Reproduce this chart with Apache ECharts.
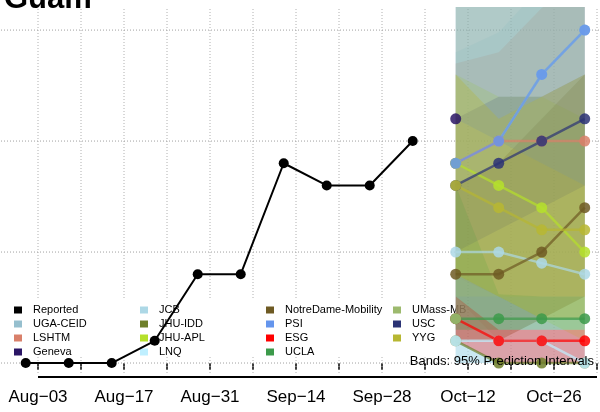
<!DOCTYPE html>
<html><head><meta charset="utf-8">
<script src="https://cdn.jsdelivr.net/npm/echarts/dist/echarts.min.js"></script>
<style>html,body{margin:0;padding:0;background:#fff}#c{width:600px;height:412px}</style>
</head><body><div id="c"></div>
<script>
// ---------- data ----------
const reportedDates = ['2020-08-01','2020-08-08','2020-08-15','2020-08-22','2020-08-29','2020-09-05','2020-09-12','2020-09-19','2020-09-26','2020-10-03'];
const reportedValues = [0,0,0,1,4,4,9,8,8,10];
const forecastDates = ['2020-10-10','2020-10-17','2020-10-24','2020-10-31'];
const models = ['UGA-CEID','LSHTM','Geneva','JCB','JHU-IDD','JHU-APL','LNQ','NotreDame-Mobility','PSI','ESG','UCLA','UMass-MB','USC','YYG'];
const modelColors = ['#96BFCE','#D9806A','#2A1565','#ADD8E6','#6E7F2A','#B5E02B','#BFEFFF','#6E5A23','#6495ED','#FF0000','#3C9A4A','#9DBA6E','#2B3375','#B7B732'];
const medUGA = [9,10,13,15];
const medLSHTM = [9,10,10,10];
const medGeneva = [11];
const medJCB = [5,5,4.5,4];
const medJHUIDD = [1,0,0,0];
const medJHUAPL = [9,8,7,5];
const medLNQ = [1,1,1,0];
const medND = [4,4,5,7];
const medPSI = [9,10,13,15];
const medESG = [2,1,1,1];
const medUCLA = [2,2,2,2];
const medUMass = [2];
const medUSC = [8,9,10,11];
const medYYG = [8,7,6,6];
const lowUGA = [0,0,0,0],      highUGA = [30,30,30,30];
const lowLSHTM = [3,1,1,1],    highLSHTM = [13.5,14,16,17];
const lowJCB = [0,0,0,0],      highJCB = [14,14.9,17,18];
const lowJHUAPL = [4,3,2,1],   highJHUAPL = [13,12,12,11];
const lowLNQ = [0,0,0,0],      highLNQ = [3.9,3,3,3];
const lowND = [1,1,2,3],       highND = [8,9,11,13];
const lowPSI = [11,10,9,8],    highPSI = [30,30,30,30];
const lowESG = [1,0,0,0],      highESG = [3,1.5,1.5,1.5];
const lowUCLA = [1.5,1.5,1.5,1.5], highUCLA = [8,3.1,3,3];
const lowUMass = [3,3,3,3],    highUMass = [30,30,30,30];
const lowUSC = [5,6,7,8],      highUSC = [11,12,12,13];
const lowYYG = [4,3,2,2],      highYYG = [13,11,12,13];
const tickLabels = ['Aug\u221203','Aug\u221217','Aug\u221231','Sep\u221214','Sep\u221228','Oct\u221212','Oct\u221226'];
const yGridValues = [0,5,10,15];
const legendColumns = [['Reported','UGA-CEID','LSHTM','Geneva'],['JCB','JHU-IDD','JHU-APL','LNQ'],['NotreDame-Mobility','PSI','ESG','UCLA'],['UMass-MB','USC','YYG']];

const medians = {'UGA-CEID':medUGA,'LSHTM':medLSHTM,'Geneva':medGeneva,'JCB':medJCB,'JHU-IDD':medJHUIDD,'JHU-APL':medJHUAPL,'LNQ':medLNQ,'NotreDame-Mobility':medND,'PSI':medPSI,'ESG':medESG,'UCLA':medUCLA,'UMass-MB':medUMass,'USC':medUSC,'YYG':medYYG};
const bands = {'UGA-CEID':[lowUGA,highUGA],'LSHTM':[lowLSHTM,highLSHTM],'JCB':[lowJCB,highJCB],'JHU-APL':[lowJHUAPL,highJHUAPL],'LNQ':[lowLNQ,highLNQ],'NotreDame-Mobility':[lowND,highND],'PSI':[lowPSI,highPSI],'ESG':[lowESG,highESG],'UCLA':[lowUCLA,highUCLA],'UMass-MB':[lowUMass,highUMass],'USC':[lowUSC,highUSC],'YYG':[lowYYG,highYYG]};

// ---------- helpers ----------
const origin = Date.parse('2020-08-03T00:00:00Z');
const dayOf = d => Math.round((Date.parse(d + 'T00:00:00Z') - origin) / 864e5);
const FONT = "'Liberation Sans', Arial, sans-serif";
const X_MIN = -7, X_MAX = 98, LAST_TICK = 91;
const Y_MIN = -0.63, Y_MAX = 16.04;
const GRID_Y0 = -0.45, GRID_Y1 = 15.95;
const fx = forecastDates.map(dayOf);
const bandAlpha = m => (m === 'USC' ? 0.15 : 0.3);

const series = [];
const grid = {type:'line', symbol:'none', silent:true, z:0, animation:false,
  lineStyle:{color:'#b0b0b0', width:1, type:[1,2]}};
for (let v = X_MIN; v <= LAST_TICK; v += 7) series.push(Object.assign({}, grid, {data:[[v,GRID_Y0],[v,GRID_Y1]]}));
yGridValues.forEach(y => series.push(Object.assign({}, grid, {lineStyle:{color:'#a0a0a0', width:1, type:[1,2]}, data:[[X_MIN,y],[92,y]]})));

// axis line
series.push({type:'line', symbol:'none', silent:true, clip:false, z:3, animation:false,
  lineStyle:{color:'#000', width:2}, data:[[0,Y_MIN],[LAST_TICK,Y_MIN]]});

// reported
series.push({type:'line', name:'Reported', z:3, animation:false, symbol:'circle', symbolSize:10,
  itemStyle:{color:'#000'}, lineStyle:{color:'#000', width:2},
  data: reportedDates.map((d,j)=>[dayOf(d), reportedValues[j]])});

// each model: its prediction band, then its median line on top
models.forEach((m, i) => {
  if (bands[m]) {
    const [lo, hi] = bands[m];
    series.push({
      type:'custom', silent:true, animation:false, clip:true, z:3,
      encode:{x:0, y:1},
      data: [[fx[0], lo[0]]],
      renderItem: (params, api) => {
        const pts = [];
        fx.forEach((x,j) => pts.push(api.coord([x, hi[j]])));
        for (let j = fx.length - 1; j >= 0; j--) pts.push(api.coord([fx[j], lo[j]]));
        const cs = params.coordSys;
        return {type:'polygon', shape:{points:pts},
          clipPath:{type:'rect', shape:{x:cs.x, y:cs.y, width:cs.width, height:cs.height}},
          style:{fill:modelColors[i], opacity:bandAlpha(m)}};
      }
    });
  }
  const vals = medians[m];
  series.push({type:'line', name:m, z:3, animation:false, symbol:'circle', symbolSize:11, showAllSymbol:true,
    itemStyle:{color:modelColors[i], opacity:0.85}, lineStyle:{color:modelColors[i], width:2.5, opacity:0.7},
    data: vals.map((v,j)=>[fx[j], v])});
});

const colX = [14, 140, 266, 393];
const legends = legendColumns.map((col, i) => ({
  data: col, orient:'vertical', left: colX[i], top: 303, itemWidth:8, itemHeight:7, itemGap:0, icon:'rect',
  padding:0, selectedMode:false, z:1.5, itemStyle:{opacity:1},
  textStyle:{fontSize:11, lineHeight:14, color:'#000', fontFamily:FONT, padding:[0,0,0,6]}
}));

const chart = echarts.init(document.getElementById('c'), null, {renderer:'canvas'});
chart.setOption({
  animation:false,
  backgroundColor:'#fff',
  grid:{left:-5, right:-40, top:7, bottom:35, containLabel:false, outerBoundsMode:'none'},
  xAxis:{type:'value', min:X_MIN, max:X_MAX, interval:7,
    axisLine:{show:false}, splitLine:{show:false},
    axisTick:{show:true, length:7, lineStyle:{color:'#000', width:1.5}},
    axisLabel:{fontSize:17, color:'#000', fontFamily:FONT, margin:12, showMinLabel:true, showMaxLabel:true, hideOverlap:false,
      formatter: v => (v >= 0 && v % 14 === 0) ? (tickLabels[v/14] || '') : ''}},
  yAxis:{type:'value', min:Y_MIN, max:Y_MAX, show:false},
  legend: legends,
  graphic:[
    {type:'rect', z:1, silent:true, shape:{x:5, y:300, width:449, height:55}, style:{fill:'#fff'}},
    {type:'text', z:10, x:4, y:-1, style:{text:'Guam', font:"bold 31px 'Liberation Sans', Arial, sans-serif", fill:'#000', textVerticalAlign:'middle', verticalAlign:'middle'}},
    {type:'text', z:10, x:594, y:361, style:{text:'Bands: 95% Prediction Intervals', font:"13px 'Liberation Sans', Arial, sans-serif", fill:'#000', textAlign:'right', align:'right', textVerticalAlign:'middle', verticalAlign:'middle'}}
  ],
  series: series
});
</script></body></html>
